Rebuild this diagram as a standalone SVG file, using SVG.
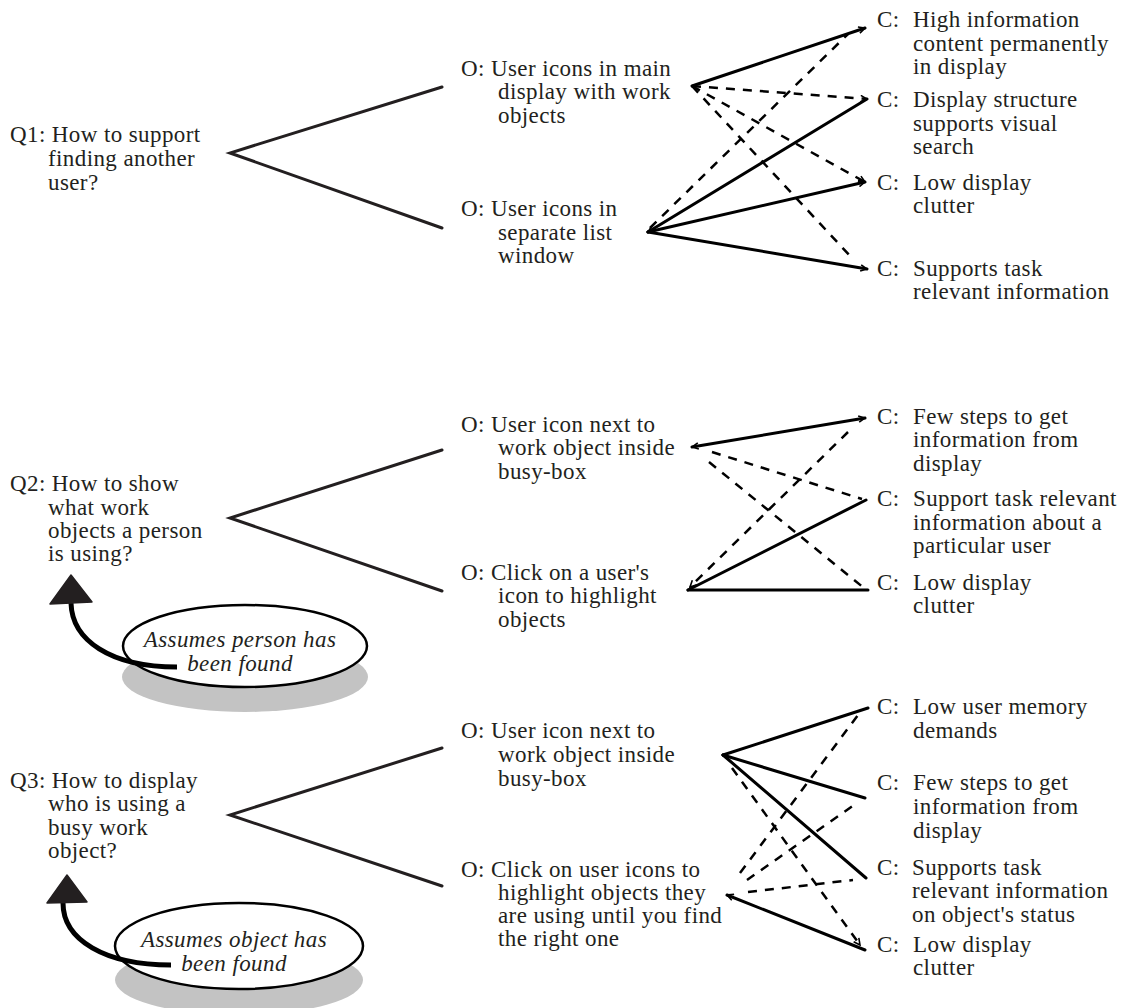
<svg xmlns="http://www.w3.org/2000/svg" width="1127" height="1008" viewBox="0 0 1127 1008">
  <style>
    .t { font-family: "Liberation Serif", "Times New Roman", serif; font-size: 23px; letter-spacing: 0.4px; fill: #231f20; }
    .it { font-style: italic; text-anchor: middle; }
    .branch { fill: none; stroke: #231f20; stroke-width: 3; stroke-linecap: round; stroke-linejoin: miter; }
    .solid { fill: none; stroke: #000; stroke-width: 3; stroke-linecap: round; }
    .dash { fill: none; stroke: #000; stroke-width: 2.5; stroke-dasharray: 9 8; }
    .bubble { fill: #fff; stroke: #000; stroke-width: 2.5; }
    .shadow { fill: #c3c3c3; }
    .curl { fill: none; stroke: #000; stroke-width: 5; }
    .head { fill: #231f20; stroke: #231f20; stroke-width: 1.5; stroke-linejoin: round; }
  </style>
  <defs>
    <marker id="tip" viewBox="0 0 10 10" refX="9" refY="5" markerWidth="8" markerHeight="8" markerUnits="userSpaceOnUse" orient="auto-start-reverse">
      <path d="M1,1 L9,5 L1,9" fill="none" stroke="#000" stroke-width="2"/>
    </marker>
  </defs>

  <!-- Question 1 -->
  <g id="q1">
    <text class="t" x="10" y="142">Q1: How to support</text>
    <text class="t" x="48" y="166">finding another</text>
    <text class="t" x="48" y="190">user?</text>
    <path class="branch" d="M442,87 L230,153 L442,228"/>
  </g>
  <g id="q1-opt1">
    <text class="t" x="461" y="76">O: User icons in main</text>
    <text class="t" x="498" y="99">display with work</text>
    <text class="t" x="498" y="123">objects</text>
  </g>
  <g id="q1-opt2">
    <text class="t" x="461" y="216">O: User icons in</text>
    <text class="t" x="498" y="240">separate list</text>
    <text class="t" x="498" y="263">window</text>
  </g>
  <g id="q1-c1">
    <text class="t" y="27"><tspan x="877">C:</tspan><tspan x="913">High information</tspan></text>
    <text class="t" x="913" y="51">content permanently</text>
    <text class="t" x="913" y="74">in display</text>
  </g>
  <g id="q1-c2">
    <text class="t" y="107"><tspan x="877">C:</tspan><tspan x="913">Display structure</tspan></text>
    <text class="t" x="913" y="131">supports visual</text>
    <text class="t" x="913" y="154">search</text>
  </g>
  <g id="q1-c3">
    <text class="t" y="190"><tspan x="877">C:</tspan><tspan x="913">Low display</tspan></text>
    <text class="t" x="913" y="213">clutter</text>
  </g>
  <g id="q1-c4">
    <text class="t" y="276"><tspan x="877">C:</tspan><tspan x="913">Supports task</tspan></text>
    <text class="t" x="913" y="299">relevant information</text>
  </g>

  <!-- Question 2 -->
  <g id="q2">
    <text class="t" x="10" y="491">Q2: How to show</text>
    <text class="t" x="48" y="515">what work</text>
    <text class="t" x="48" y="538">objects a person</text>
    <text class="t" x="48" y="561">is using?</text>
    <path class="branch" d="M442,450 L230,518 L442,591"/>
  </g>
  <g id="q2-opt1">
    <text class="t" x="461" y="432">O: User icon next to</text>
    <text class="t" x="498" y="455">work object inside</text>
    <text class="t" x="498" y="479">busy-box</text>
  </g>
  <g id="q2-opt2">
    <text class="t" x="461" y="580">O: Click on a user's</text>
    <text class="t" x="498" y="603">icon to highlight</text>
    <text class="t" x="498" y="627">objects</text>
  </g>
  <g id="q2-c1">
    <text class="t" y="424"><tspan x="877">C:</tspan><tspan x="913">Few steps to get</tspan></text>
    <text class="t" x="913" y="447">information from</text>
    <text class="t" x="913" y="471">display</text>
  </g>
  <g id="q2-c2">
    <text class="t" y="506"><tspan x="877">C:</tspan><tspan x="913">Support task relevant</tspan></text>
    <text class="t" x="913" y="530">information about a</text>
    <text class="t" x="913" y="553">particular user</text>
  </g>
  <g id="q2-c3">
    <text class="t" y="590"><tspan x="877">C:</tspan><tspan x="913">Low display</tspan></text>
    <text class="t" x="913" y="613">clutter</text>
  </g>
  <g id="q2-note">
    <ellipse class="shadow" cx="245" cy="677" rx="123" ry="35"/>
    <ellipse class="bubble" cx="245" cy="646" rx="122" ry="41"/>
    <text class="t it" x="240" y="647">Assumes person has</text>
    <text class="t it" x="240" y="671">been found</text>
    <path class="curl" d="M177,667 C110,667 72,640 71,603"/>
    <path class="head" d="M71,575 L92,602 L50,604 Z"/>
  </g>

  <!-- Question 3 -->
  <g id="q3">
    <text class="t" x="10" y="788">Q3: How to display</text>
    <text class="t" x="48" y="811">who is using a</text>
    <text class="t" x="48" y="835">busy work</text>
    <text class="t" x="48" y="858">object?</text>
    <path class="branch" d="M442,748 L230,815 L442,886"/>
  </g>
  <g id="q3-opt1">
    <text class="t" x="461" y="738">O: User icon next to</text>
    <text class="t" x="498" y="762">work object inside</text>
    <text class="t" x="498" y="786">busy-box</text>
  </g>
  <g id="q3-opt2">
    <text class="t" x="461" y="877">O: Click on user icons to</text>
    <text class="t" x="498" y="900">highlight objects they</text>
    <text class="t" x="498" y="923">are using until you find</text>
    <text class="t" x="498" y="946">the right one</text>
  </g>
  <g id="q3-c1">
    <text class="t" y="714"><tspan x="877">C:</tspan><tspan x="913">Low user memory</tspan></text>
    <text class="t" x="913" y="738">demands</text>
  </g>
  <g id="q3-c2">
    <text class="t" y="790"><tspan x="877">C:</tspan><tspan x="913">Few steps to get</tspan></text>
    <text class="t" x="913" y="814">information from</text>
    <text class="t" x="913" y="838">display</text>
  </g>
  <g id="q3-c3">
    <text class="t" y="875"><tspan x="877">C:</tspan><tspan x="912">Supports task</tspan></text>
    <text class="t" x="912" y="898">relevant information</text>
    <text class="t" x="912" y="922">on object's status</text>
  </g>
  <g id="q3-c4">
    <text class="t" y="952"><tspan x="877">C:</tspan><tspan x="913">Low display</tspan></text>
    <text class="t" x="913" y="975">clutter</text>
  </g>
  <g id="q3-note">
    <ellipse class="shadow" cx="239" cy="980" rx="124" ry="35"/>
    <ellipse class="bubble" cx="239" cy="946" rx="124" ry="43"/>
    <text class="t it" x="234" y="947">Assumes object has</text>
    <text class="t it" x="234" y="971">been found</text>
    <path class="curl" d="M171,965 C105,965 63,940 63,903"/>
    <path class="head" d="M67,875 L87,902 L47,903 Z"/>
  </g>

  <!-- Option-to-criterion connectors -->
  <g id="connectors">
    <!-- Q1 -->
    <line class="solid" x1="692" y1="86" x2="865" y2="28" marker-end="url(#tip)"/>
    <line class="dash" x1="692" y1="86" x2="867" y2="99" marker-end="url(#tip)"/>
    <line class="dash" x1="692" y1="86" x2="865" y2="182" marker-end="url(#tip)"/>
    <line class="dash" x1="692" y1="86" x2="852" y2="258"/>
    <line class="dash" x1="650" y1="228" x2="848" y2="34"/>
    <line class="solid" x1="867" y1="99" x2="648" y2="232" marker-end="url(#tip)"/>
    <line class="solid" x1="648" y1="232" x2="865" y2="182" marker-end="url(#tip)"/>
    <line class="solid" x1="648" y1="232" x2="867" y2="269" marker-end="url(#tip)"/>
    <!-- Q2 -->
    <line class="solid" x1="692" y1="447" x2="865" y2="418" marker-start="url(#tip)" marker-end="url(#tip)"/>
    <line class="dash" x1="712" y1="452" x2="862" y2="499"/>
    <line class="dash" x1="709" y1="462" x2="864" y2="588"/>
    <line class="dash" x1="848" y1="432" x2="690" y2="587" marker-end="url(#tip)"/>
    <line class="solid" x1="688" y1="590" x2="866" y2="500"/>
    <line class="solid" x1="688" y1="590" x2="868" y2="590"/>
    <!-- Q3 -->
    <line class="solid" x1="723" y1="755" x2="868" y2="708"/>
    <line class="solid" x1="723" y1="755" x2="865" y2="798"/>
    <line class="solid" x1="723" y1="755" x2="866" y2="878"/>
    <line class="dash" x1="732" y1="768" x2="860" y2="945" marker-end="url(#tip)"/>
    <line class="dash" x1="740" y1="873" x2="858" y2="715"/>
    <line class="dash" x1="747" y1="880" x2="857" y2="803"/>
    <line class="dash" x1="748" y1="892" x2="853" y2="880"/>
    <line class="solid" x1="865" y1="950" x2="727" y2="895" marker-end="url(#tip)"/>
  </g>
</svg>
